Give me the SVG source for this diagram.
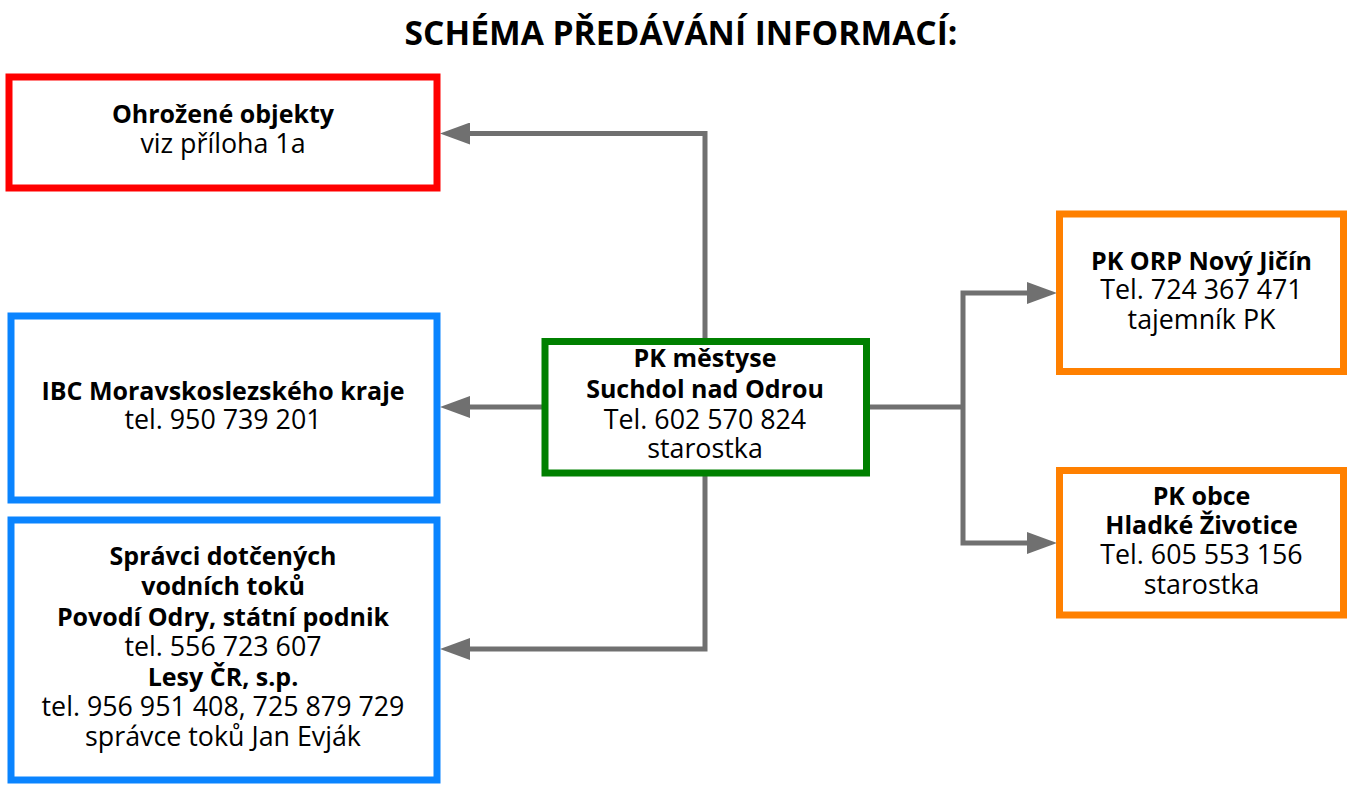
<svg xmlns="http://www.w3.org/2000/svg" width="1360" height="787" viewBox="0 0 1360 787">
<defs>
<style>
.box{fill:#fff;stroke-width:7}
.red{stroke:#ff0000}
.blue{stroke:#0a84ff}
.green{stroke:#008000}
.orange{stroke:#ff8000}
text{font-family:"Open Sans","Noto Sans",sans-serif;font-size:26.8px;fill:#000;text-anchor:middle}
.b{font-weight:700;font-size:25px}
.title{font-size:33.6px;font-weight:700}
.conn{fill:none;stroke:#707070;stroke-width:5;stroke-linejoin:miter}
</style>
<marker id="ah" markerUnits="userSpaceOnUse" markerWidth="30" markerHeight="22" refX="0" refY="11" orient="auto">
<path d="M0,0 L30,11 L0,22 z" fill="#707070"/>
</marker>
</defs>
<rect width="1360" height="787" fill="#fff"/>
<text class="title" x="681" y="45">SCHÉMA PŘEDÁVÁNÍ INFORMACÍ:</text>

<g id="connectors">
<path class="conn" d="M705,341 V133.5 H470" marker-end="url(#ah)"/>
<path class="conn" d="M545,407 H470" marker-end="url(#ah)"/>
<path class="conn" d="M705,473 V649 H470" marker-end="url(#ah)"/>
<path class="conn" d="M866,407 H963"/>
<path class="conn" d="M963,407 V293 H1027" marker-end="url(#ah)"/>
<path class="conn" d="M963,407 V543 H1027" marker-end="url(#ah)"/>
</g>

<g id="ohrozene">
<rect class="box red" x="9" y="77" width="428" height="111"/>
<text class="b" x="223" y="123">Ohrožené objekty</text>
<text x="223" y="153">viz příloha 1a</text>
</g>

<g id="ibc">
<rect class="box blue" x="11" y="316" width="426" height="184"/>
<text class="b" x="223" y="400">IBC Moravskoslezského kraje</text>
<text x="223" y="429">tel. 950 739 201</text>
</g>

<g id="spravci">
<rect class="box blue" x="11" y="520" width="426" height="260"/>
<text class="b" x="223" y="565">Správci dotčených</text>
<text class="b" x="223" y="595">vodních toků</text>
<text class="b" x="223" y="626">Povodí Odry, státní podnik</text>
<text x="223" y="656">tel. 556 723 607</text>
<text class="b" x="223" y="686">Lesy ČR, s.p.</text>
<text x="223" y="716">tel. 956 951 408, 725 879 729</text>
<text x="223" y="746">správce toků Jan Evják</text>
</g>

<g id="pk-mestyse">
<rect class="box green" x="545" y="341.5" width="321.5" height="131.5"/>
<text class="b" x="705" y="367">PK městyse</text>
<text class="b" x="705" y="398">Suchdol nad Odrou</text>
<text x="705" y="429">Tel. 602 570 824</text>
<text x="705" y="458">starostka</text>
</g>

<g id="pk-orp">
<rect class="box orange" x="1059.5" y="214" width="284" height="157.5"/>
<text class="b" x="1201.5" y="270">PK ORP Nový Jičín</text>
<text x="1201.5" y="299">Tel. 724 367 471</text>
<text x="1201.5" y="329">tajemník PK</text>
</g>

<g id="pk-obce">
<rect class="box orange" x="1059.5" y="470.5" width="284" height="144.5"/>
<text class="b" x="1201.5" y="505">PK obce</text>
<text class="b" x="1201.5" y="534">Hladké Životice</text>
<text x="1201.5" y="564">Tel. 605 553 156</text>
<text x="1201.5" y="594">starostka</text>
</g>
</svg>
